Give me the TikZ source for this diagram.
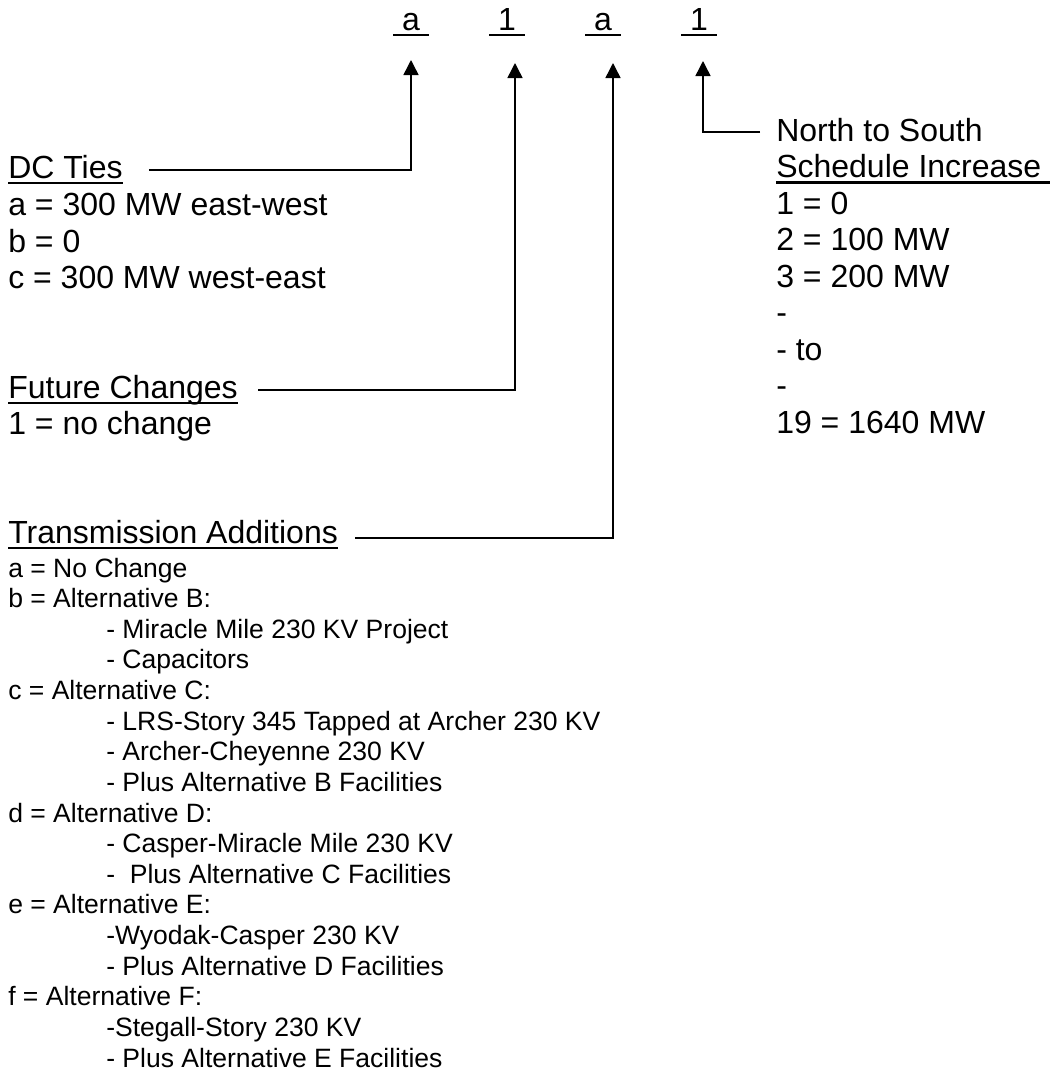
\documentclass[tikz,border=0pt]{standalone}
\usepackage{fontspec}
\setmainfont{Liberation Sans}
\usetikzlibrary{arrows.meta,calc}
\newcommand\myul[1]{\setbox0=\hbox{#1}\rlap{\rule[-0.19em]{\wd0}{0.08em}}\box0}
\begin{document}
\begin{tikzpicture}[x=0.75pt,y=-0.75pt,
  big/.style={anchor=base west,inner sep=0pt,font=\fontsize{24pt}{27pt}\selectfont},
  small/.style={anchor=base west,inner sep=0pt,font=\fontsize{19.9pt}{23pt}\selectfont},
  conn/.style={line width=1.1pt},
  tip/.style={-{Triangle[length=11.25pt,width=11.25pt]}}]
\useasboundingbox (0,0) rectangle (1053,1072);

% code letters
\node[big] (k1) at (393,30) {\myul{\ a\ }};
\node[big] (k2) at (489,30) {\myul{\ 1\ }};
\node[big] (k3) at (585,30) {\myul{\ a\ }};
\node[big] (k4) at (681,30) {\myul{\ 1\ }};

% DC ties
\node[big] (dc)  at (8,178) {\myul{DC Ties}};
\node[big] (dca) at (8,215) {a = 300 MW east-west};
\node[big] (dcb) at (8,252) {b = 0};
\node[big] (dcc) at (8,288) {c = 300 MW west-east};

% Future changes
\node[big] (fc)  at (8,398) {\myul{Future Changes}};
\node[big] (fc1) at (8,434) {1 = no change};

% Transmission additions
\node[big] (ta) at (8,543) {\myul{Transmission Additions}};
\node[small] (t01) at (8,577)    {a = No Change};
\node[small] (t02) at (8,607.6)  {b = Alternative B:};
\node[small] (t03) at (106,638.2) {- Miracle Mile 230 KV Project};
\node[small] (t04) at (106,668.9) {- Capacitors};
\node[small] (t05) at (8,699.5)  {c = Alternative C:};
\node[small] (t06) at (106,730.1) {- LRS-Story 345 Tapped at Archer 230 KV};
\node[small] (t07) at (106,760.8) {- Archer-Cheyenne 230 KV};
\node[small] (t08) at (106,791.4) {- Plus Alternative B Facilities};
\node[small] (t09) at (8,822)    {d = Alternative D:};
\node[small] (t10) at (106,852.6) {- Casper-Miracle Mile 230 KV};
\node[small] (t11) at (106,883.3) {-\ \ Plus Alternative C Facilities};
\node[small] (t12) at (8,913.9)  {e = Alternative E:};
\node[small] (t13) at (106,944.5) {-Wyodak-Casper 230 KV};
\node[small] (t14) at (106,975.1) {- Plus Alternative D Facilities};
\node[small] (t15) at (8,1005.8) {f = Alternative F:};
\node[small] (t16) at (106,1036.4) {-Stegall-Story 230 KV};
\node[small] (t17) at (106,1067) {- Plus Alternative E Facilities};

% North to South
\node[big] (ns1) at (776,141) {North to South};
\node[big] (ns2) at (776,177.5) {\myul{Schedule Increase\ }};
\node[big] (ns3) at (776,214) {1 = 0};
\node[big] (ns4) at (776,250.5) {2 = 100 MW};
\node[big] (ns5) at (776,287) {3 = 200 MW};
\node[big] (ns6) at (776,323.5) {-};
\node[big] (ns7) at (776,360) {- to};
\node[big] (ns8) at (776,396.5) {-};
\node[big] (ns9) at (776,433) {19 = 1640 MW};

% connectors
\coordinate (c1) at (411,170); \coordinate (a1) at (411,60);
\coordinate (c2) at (515,390); \coordinate (a2) at (515,63);
\coordinate (c3) at (613,538); \coordinate (a3) at (613,63);
\coordinate (c4) at (703,132); \coordinate (a4) at (703,61);
\draw[conn,tip] ($(dc.base east)+(26,-8)$) -- (c1) -- (a1);
\draw[conn,tip] ($(fc.base east)+(20,-8)$) -- (c2) -- (a2);
\draw[conn,tip] ($(ta.base east)+(17,-5)$) -- (c3) -- (a3);
\draw[conn,tip] ($(ns1.base west)+(-16,-9)$) -- (c4) -- (a4);
\end{tikzpicture}
\end{document}
